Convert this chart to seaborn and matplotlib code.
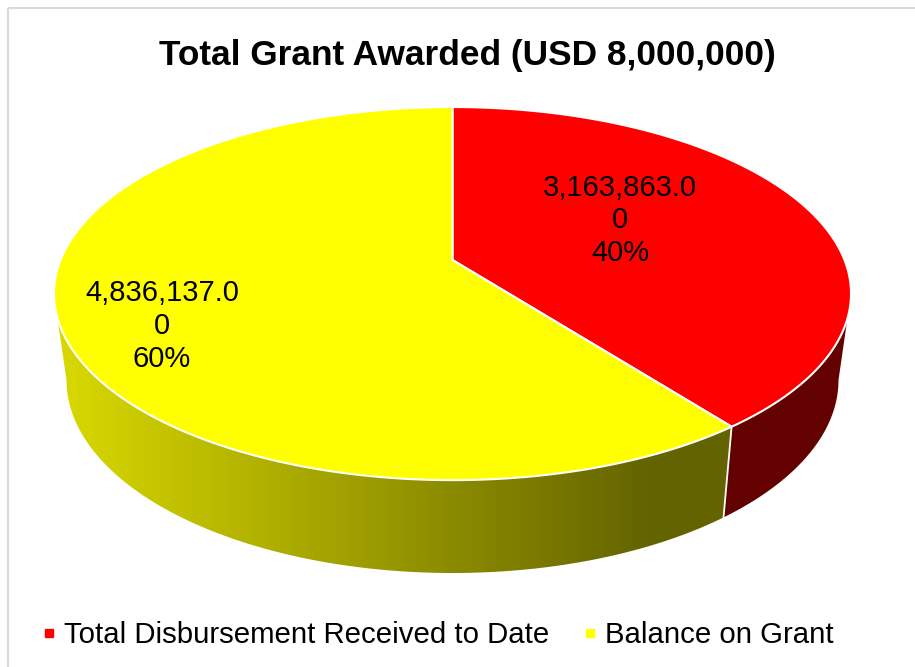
import numpy as np
import matplotlib
matplotlib.use("Agg")
import matplotlib.pyplot as plt
import seaborn as sns
from matplotlib.lines import Line2D
from matplotlib.patches import Polygon, Rectangle

title = "Total Grant Awarded (USD 8,000,000)"
categories = ["Total Disbursement Received to Date", "Balance on Grant"]
values = [3163863.00, 4836137.00]
percent_labels = ["40%", "60%"]
colors = ["#ff0000", "#ffff00"]

sns.set_theme(style="white")
plt.rcParams["font.family"] = ["Liberation Sans", "DejaVu Sans"]

# geometry of the tilted pie, in picture pixels
CX = 452.5
APEX_Y = 260.0
TILT = 0.18
TOP_A = 392.0
TOP_B = 180.5
TOP_RX = 397.5
TOP_MID_Y = 293.5
BOT_RX = 386.0
BOT_RY = 193.0
BOT_MID_Y = 380.0


def top_point(theta):
    # theta runs clockwise from 12 o'clock
    x, y = np.sin(theta), np.cos(theta)
    d = 1 + TILT * y
    return CX + TOP_A * x / d, APEX_Y - TOP_B * y / d


def bottom_point(px):
    t = np.clip((px - CX) / TOP_RX, -1, 1)
    return CX + BOT_RX * t, BOT_MID_Y + BOT_RY * np.sqrt(1 - t ** 2)


def shade(px):
    return np.interp(px, [60, 650], [0.85, 0.39])


fig = plt.figure(figsize=(9.15, 6.67), dpi=100)
ax = fig.add_axes([0, 0, 1, 1])

ax.add_patch(Rectangle((8, 8), 930, 680, fill=False, ec="#d9d9d9", lw=1.5))

edges = np.concatenate([[0], np.cumsum(values)]) / np.sum(values) * 2 * np.pi

# side wall first, so the top face sits over it: a left-to-right gradient clipped to each slice
columns = np.arange(0, 915)
for i, color in enumerate(colors):
    th = np.linspace(edges[i], edges[i + 1], 500)
    tx, ty = top_point(th)
    keep = ty >= TOP_MID_Y
    tx, ty = tx[keep], ty[keep]
    bx, by = bottom_point(tx)
    rgb = np.array(matplotlib.colors.to_rgb(color))
    gradient = (shade(columns + 0.5)[:, None] * rgb)[None, :, :]
    wall = Polygon(np.c_[np.r_[tx, bx[::-1]], np.r_[ty, by[::-1]]], closed=True, transform=ax.transData)
    im = ax.imshow(gradient, extent=(0, 915, 667, 0), aspect="auto", zorder=1, interpolation="nearest")
    im.set_clip_path(wall)

ax.set_xlim(0, 915)
ax.set_ylim(667, 0)
ax.axis("off")

# white seam where the two slices meet on the wall
seam_x, seam_y = top_point(edges[1])
seam_bx, seam_by = bottom_point(seam_x)
ax.plot([seam_x, seam_bx], [seam_y, seam_by], color="white", lw=1.3, zorder=2)

for i, color in enumerate(colors):
    th = np.linspace(edges[i], edges[i + 1], 400)
    tx, ty = top_point(th)
    ax.fill(np.r_[CX, tx], np.r_[APEX_Y, ty], facecolor=color, edgecolor="white", lw=1.5, zorder=3, joinstyle="round")

# data labels
label_pos = [(620, 220.5), (162, 326)]
for val, pct, (lx, ly) in zip(values, percent_labels, label_pos):
    s = f"{val:,.2f}"
    ax.text(lx, ly, s[:-1] + "\n" + s[-1] + "\n" + pct, ha="center", va="center",
            fontsize=21, color="black", linespacing=1.22, zorder=4)

ax.text(467, 55, title, ha="center", va="center", fontsize=25.4, fontweight="bold", color="black")

handles = [Line2D([], [], ls="none", marker="s", ms=6, color=c) for c in colors]
ax.legend(handles, categories, ncol=2, frameon=False, fontsize=21.2,
          loc="center left", bbox_to_anchor=(0.0293, 0.048), handlelength=0.5,
          handletextpad=0.255, columnspacing=1.15, borderpad=0, labelcolor="black")

fig.savefig("out.png", dpi=100)
